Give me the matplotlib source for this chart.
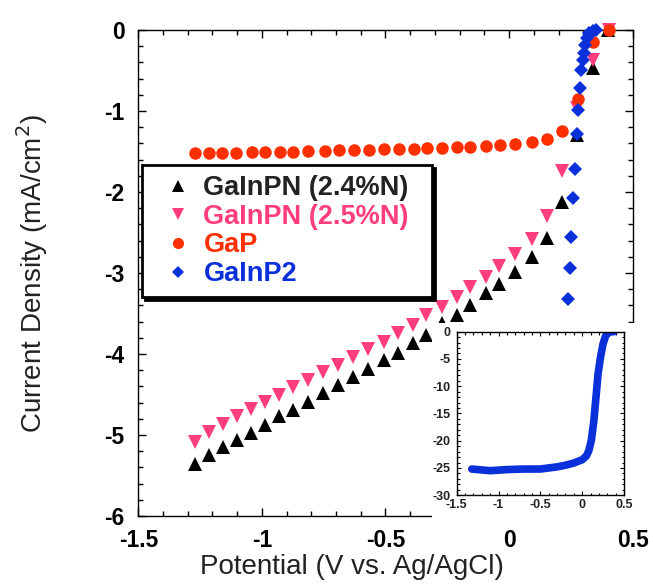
import matplotlib
matplotlib.use('Agg')
import matplotlib.pyplot as plt
from matplotlib.patches import Rectangle
from matplotlib.lines import Line2D
from matplotlib.ticker import MultipleLocator

plt.rcParams['font.family'] = ['Liberation Sans', 'DejaVu Sans']

# GaInPN (2.4%N)
n24_v = [-1.271, -1.214, -1.159, -1.102, -1.044, -0.987, -0.931, -0.874, -0.815, -0.752,
         -0.691, -0.630, -0.570, -0.505, -0.448, -0.388, -0.336, -0.273, -0.212, -0.158,
         -0.093, -0.040, 0.024, 0.091, 0.152, 0.213, 0.273, 0.338, 0.400]
n24_j = [-5.358, -5.247, -5.152, -5.062, -4.971, -4.873, -4.765, -4.691, -4.593, -4.477,
         -4.387, -4.288, -4.181, -4.074, -3.984, -3.868, -3.765, -3.621, -3.519, -3.395,
         -3.251, -3.136, -2.983, -2.806, -2.572, -2.119, -1.296, -0.473, 0.0]

# GaInPN (2.5%N)
n25_v = [-1.271, -1.214, -1.159, -1.102, -1.044, -0.987, -0.931, -0.874, -0.815, -0.752,
         -0.691, -0.630, -0.570, -0.505, -0.448, -0.388, -0.336, -0.273, -0.212, -0.158,
         -0.093, -0.040, 0.024, 0.091, 0.152, 0.213, 0.273, 0.341, 0.405]
n25_j = [-5.082, -4.959, -4.868, -4.765, -4.679, -4.588, -4.506, -4.411, -4.321, -4.226,
         -4.136, -4.041, -3.938, -3.848, -3.737, -3.642, -3.519, -3.416, -3.300, -3.177,
         -3.045, -2.914, -2.765, -2.580, -2.296, -1.741, -0.967, -0.370, 0.0]

# GaP
gap_v = [-1.270, -1.215, -1.160, -1.105, -1.040, -0.987, -0.928, -0.874, -0.815, -0.745,
         -0.687, -0.627, -0.567, -0.506, -0.447, -0.386, -0.331, -0.273, -0.212, -0.157,
         -0.092, -0.038, 0.025, 0.093, 0.152, 0.213, 0.278, 0.341, 0.404]
gap_j = [-1.523, -1.523, -1.519, -1.514, -1.510, -1.510, -1.506, -1.502, -1.494, -1.490,
         -1.486, -1.481, -1.477, -1.473, -1.469, -1.465, -1.461, -1.453, -1.444, -1.440,
         -1.428, -1.416, -1.403, -1.387, -1.350, -1.247, -0.852, -0.144, 0.0]

# GaInP2
gip_v = [0.240, 0.247, 0.251, 0.260, 0.267, 0.276, 0.280, 0.287, 0.291, 0.298,
         0.303, 0.307, 0.314, 0.324, 0.338, 0.352]
gip_j = [-3.325, -2.942, -2.551, -2.078, -1.720, -1.284, -0.988, -0.720, -0.494, -0.370,
         -0.280, -0.185, -0.103, -0.041, -0.008, 0.0]

# inset curve
ins_v = [-1.32, -1.25, -1.10, -0.90, -0.70, -0.50, -0.40, -0.30, -0.20, -0.10, 0.0,
         0.05, 0.08, 0.11, 0.14, 0.165, 0.19, 0.22, 0.25, 0.28, 0.31, 0.35, 0.38]
ins_j = [-25.2, -25.3, -25.5, -25.3, -25.2, -25.2, -25.0, -24.8, -24.5, -24.1, -23.5,
         -22.8, -21.8, -19.9, -16.3, -12.0, -7.7, -4.6, -2.2, -0.8, -0.2, 0.0, 0.0]

labels = ['GaInPN (2.4%N)', 'GaInPN (2.5%N)', 'GaP', 'GaInP2']
c_black = '#000000'
c_pink = '#FF3D7F'
c_red = '#FF3000'
c_blue = '#0A30DA'
text_cols = ['#222222', c_pink, c_red, c_blue]

fig = plt.figure(figsize=(6.53, 5.85), dpi=100)
ax = fig.add_axes([0.2118, 0.1179, 0.7571, 0.8308])

ax.plot(n24_v, n24_j, '^', color=c_black, ms=9.5, mew=0, clip_on=False, zorder=3)
ax.plot(n25_v, n25_j, 'v', color=c_pink, ms=9.5, mew=0, clip_on=False, zorder=4)
ax.plot(gap_v, gap_j, 'o', color=c_red, ms=9, mew=0, clip_on=False, zorder=5)
ax.plot(gip_v, gip_j, 'D', color=c_blue, ms=7, mew=0, clip_on=False, zorder=6)

ax.set_xlim(-1.5, 0.5)
ax.set_ylim(-6, 0)
ax.xaxis.set_minor_locator(MultipleLocator(0.1))
ax.yaxis.set_minor_locator(MultipleLocator(0.2))
ax.tick_params(which='both', direction='in', top=True, right=True, width=1)
ax.tick_params(which='major', length=6)
ax.tick_params(which='minor', length=3.5)
ax.tick_params(axis='x', pad=9)
ax.tick_params(axis='y', pad=10)
ax.set_xticks([-1.5, -1, -0.5, 0, 0.5])
ax.set_xticklabels(['-1.5', '-1', '-0.5', '0', '0.5'])
ax.set_yticks([0, -1, -2, -3, -4, -5, -6])
ax.set_yticklabels(['0', '-1', '-2', '-3', '-4', '-5', '-6'])
for t in ax.get_xticklabels() + ax.get_yticklabels():
    t.set_fontsize(16.5)
    t.set_fontweight('bold')
for s in ax.spines.values():
    s.set_linewidth(1)

ax.set_xlabel('Potential (V vs. Ag/AgCl)', fontsize=20, color='#222222')
ax.xaxis.set_label_coords(0.432, -0.078)
ax.set_ylabel('Current Density (mA/cm$^2$)', fontsize=20, color='#222222')
ax.yaxis.set_label_coords(-0.178, 0.5)

handles = [
    Line2D([], [], ls='', marker='^', color=c_black, ms=8, mew=0),
    Line2D([], [], ls='', marker='v', color=c_pink, ms=8, mew=0),
    Line2D([], [], ls='', marker='o', color=c_red, ms=8, mew=0),
    Line2D([], [], ls='', marker='D', color=c_blue, ms=6, mew=0),
]
leg = ax.legend(handles, labels, loc='upper left', mode='expand',
                bbox_to_anchor=(0.0075, 0.7222, 0.5865, 0.0),
                fancybox=False, shadow={'color': 'black', 'alpha': 1},
                prop={'size': 19.5, 'weight': 'bold'},
                handlelength=1.9, handletextpad=0.0, borderpad=0.37,
                labelspacing=0.1, borderaxespad=0, framealpha=1)
leg.get_frame().set_edgecolor('black')
leg.get_frame().set_linewidth(2)
leg.set_zorder(10)
for t, c in zip(leg.get_texts(), text_cols):
    t.set_color(c)

# white patch behind inset hides part of main axes
fig.add_artist(Rectangle((0.6616, 0.0974), 0.3384, 0.3505, transform=fig.transFigure,
                         facecolor='white', edgecolor='none', zorder=1))

ins = fig.add_axes([0.6994, 0.1535, 0.2562, 0.2795])
ins.set_zorder(2)
ins.plot(ins_v, ins_j, '-', color=c_blue, lw=5.5, solid_capstyle='round',
         solid_joinstyle='round')
ins.set_xlim(-1.5, 0.5)
ins.set_ylim(-30, 0)
ins.xaxis.set_minor_locator(MultipleLocator(0.1))
ins.yaxis.set_minor_locator(MultipleLocator(1))
ins.tick_params(which='both', direction='in', top=True, right=True, width=0.8)
ins.tick_params(which='major', length=3)
ins.tick_params(which='minor', length=1.8)
ins.tick_params(axis='x', pad=3)
ins.tick_params(axis='y', pad=4.5)
ins.set_xticks([-1.5, -1, -0.5, 0, 0.5])
ins.set_xticklabels(['-1.5', '-1', '-0.5', '0', '0.5'])
ins.set_yticks([0, -5, -10, -15, -20, -25, -30])
ins.set_yticklabels(['0', '-5', '-10', '-15', '-20', '-25', '-30'])
for t in ins.get_xticklabels() + ins.get_yticklabels():
    t.set_fontsize(9)
    t.set_fontweight('bold')
    t.set_color('#222222')
for s in ins.spines.values():
    s.set_linewidth(1)

fig.savefig('out.png', dpi=100)
